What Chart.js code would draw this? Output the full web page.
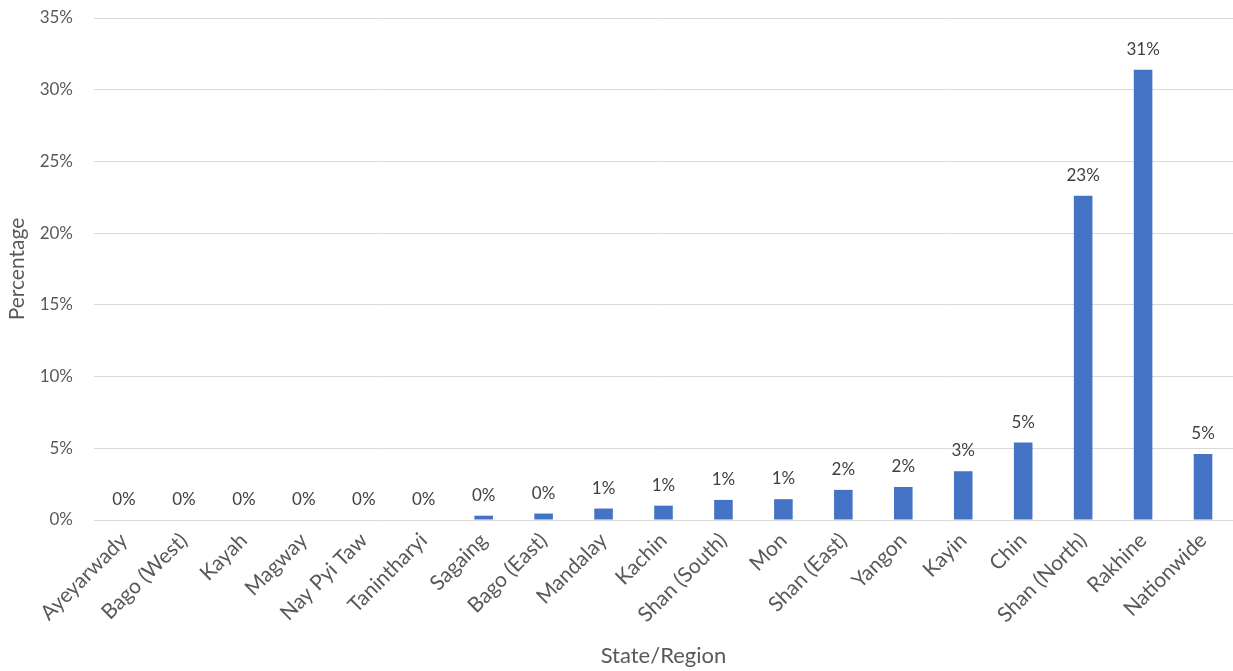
<!DOCTYPE html>
<html>
<head>
<meta charset="utf-8">
<script src="https://cdn.jsdelivr.net/npm/chart.js@4.4.1/dist/chart.umd.min.js"></script>
<style>
  html, body { margin: 0; padding: 0; background: #fff; }
  #wrap { width: 1233px; height: 671px; position: relative; }
</style>
</head>
<body>
<div id="wrap"><canvas id="chart"></canvas></div>
<script>
// --- data ---
const regions = ['Ayeyarwady', 'Bago (West)', 'Kayah', 'Magway', 'Nay Pyi Taw', 'Tanintharyi',
  'Sagaing', 'Bago (East)', 'Mandalay', 'Kachin', 'Shan (South)', 'Mon', 'Shan (East)',
  'Yangon', 'Kayin', 'Chin', 'Shan (North)', 'Rakhine', 'Nationwide'];
const percentages = [0, 0, 0, 0, 0, 0, 0.3, 0.45, 0.8, 1.0, 1.4, 1.45, 2.1, 2.3, 3.4, 5.4, 22.6, 31.4, 4.6];
const yTicks = [0, 5, 10, 15, 20, 25, 30, 35];

const FONT = 'Lato, "Open Sans", sans-serif';
const TEXT = '#595959';

// value labels above each bar
const barLabels = {
    id: 'barLabels',
    afterDatasetsDraw(chart) {
        const ctx = chart.ctx;
        const meta = chart.getDatasetMeta(0);
        ctx.save();
        ctx.font = '17px ' + FONT;
        ctx.fillStyle = '#404040';
        ctx.textAlign = 'center';
        ctx.textBaseline = 'alphabetic';
        meta.data.forEach((bar, i) => {
            ctx.fillText(Math.round(percentages[i]) + '%', bar.x, bar.y - 15);
        });
        ctx.restore();
    }
};

new Chart(document.getElementById('chart'), {
    type: 'bar',
    data: {
        labels: regions,
        datasets: [{
            data: percentages,
            backgroundColor: '#4472C4',
            borderWidth: 0,
            categoryPercentage: 1,
            barPercentage: 0.31
        }]
    },
    options: {
        responsive: true,
        maintainAspectRatio: false,
        animation: false,
        layout: { padding: { top: 18, right: 0, left: 5, bottom: 0 } },
        plugins: {
            legend: { display: false },
            tooltip: { enabled: false }
        },
        scales: {
            x: {
                grid: { display: false },
                border: { display: false },
                afterFit: axis => {
                    axis.height = 151;
                    axis.paddingLeft = 0;
                    axis.paddingRight = 0;
                },
                ticks: {
                    color: TEXT,
                    font: { family: FONT, size: 21 },
                    minRotation: 45,
                    maxRotation: 45,
                    autoSkip: false,
                    padding: 0
                },
                title: {
                    display: true,
                    text: 'State/Region',
                    color: TEXT,
                    font: { family: FONT, size: 22 },
                    padding: { top: 0, bottom: 2 }
                }
            },
            y: {
                min: 0,
                max: 35,
                afterBuildTicks: axis => { axis.ticks = yTicks.map(v => ({ value: v })); },
                afterFit: axis => {
                    axis.width = 89;
                    axis.paddingTop = 0;
                    axis.paddingBottom = 0;
                },
                grid: { color: '#d9d9d9', lineWidth: 1, drawTicks: false },
                border: { display: false },
                ticks: {
                    color: TEXT,
                    font: { family: FONT, size: 17 },
                    padding: 21,
                    callback: v => v + '%'
                },
                title: {
                    display: true,
                    text: 'Percentage',
                    color: TEXT,
                    font: { family: FONT, size: 21 },
                    padding: { top: 0, bottom: 0 }
                }
            }
        }
    },
    plugins: [barLabels]
});
</script>
</body>
</html>
